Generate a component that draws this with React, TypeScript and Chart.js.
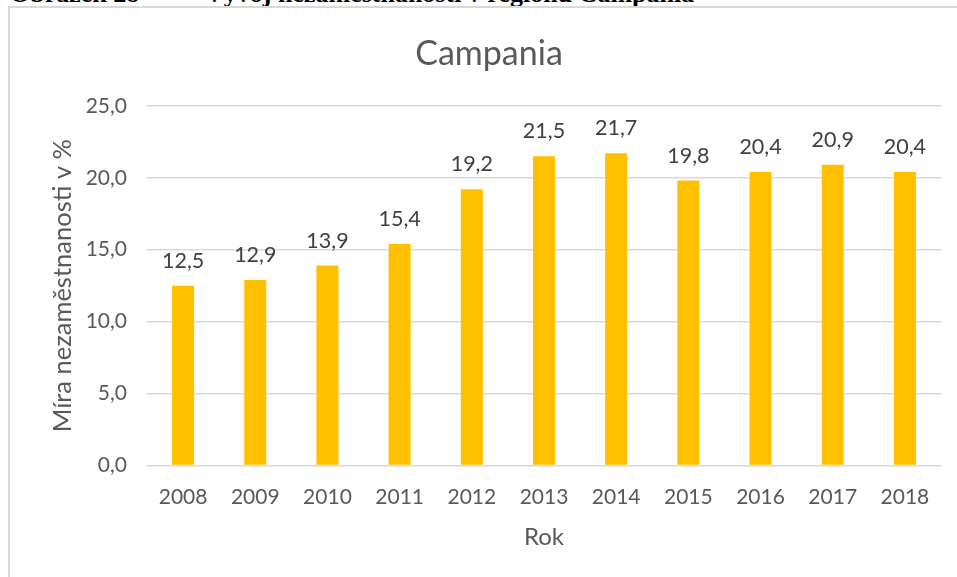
import React, { useEffect, useRef } from "react";
import { Chart, registerables } from "chart.js";

Chart.register(...registerables);

const years = ["2008", "2009", "2010", "2011", "2012", "2013", "2014", "2015", "2016", "2017", "2018"];
const unemployment = [12.5, 12.9, 13.9, 15.4, 19.2, 21.5, 21.7, 19.8, 20.4, 20.9, 20.4];
const yTicks = [0, 5, 10, 15, 20, 25];
const chartTitle = "Campania";
const yTitle = "Míra nezaměstnanosti v %";
const xTitle = "Rok";
const captionLabel = "Obrázek 28";
const captionText = "Vývoj nezaměstnanosti v regionu Campania";

const fmt = (v: number) => v.toFixed(1).replace(".", ",");
const FONT = "Lato";

const dataLabels = {
  id: "dataLabels",
  afterDatasetsDraw(chart: any) {
    const ctx = chart.ctx;
    const meta = chart.getDatasetMeta(0);
    ctx.save();
    ctx.font = `21.5px ${FONT}`;
    ctx.fillStyle = "#404040";
    ctx.textAlign = "center";
    ctx.textBaseline = "alphabetic";
    meta.data.forEach((bar: any, i: number) => {
      ctx.fillText(fmt(unemployment[i]), bar.x, bar.y - 18);
    });
    ctx.restore();
  },
};

export default function App() {
  const ref = useRef<HTMLCanvasElement>(null);
  useEffect(() => {
    if (!ref.current) return;
    const chart = new Chart(ref.current, {
      type: "bar",
      data: {
        labels: years,
        datasets: [
          {
            data: unemployment,
            backgroundColor: "#FFC000",
            borderWidth: 0,
            barPercentage: 0.305,
            categoryPercentage: 1,
          },
        ],
      },
      options: {
        animation: false,
        responsive: false,
        devicePixelRatio: 1,
        layout: { padding: 0 },
        plugins: {
          legend: { display: false },
          tooltip: { enabled: false },
          title: {
            display: true,
            text: chartTitle,
            color: "#595959",
            font: { family: FONT, size: 34, weight: "normal" },
            padding: { top: 26, bottom: 31 },
          },
        },
        scales: {
          x: {
            grid: { display: false, drawTicks: false },
            border: { display: false },
            ticks: {
              color: "#595959",
              font: { family: FONT, size: 21 },
              padding: 19,
              maxRotation: 0,
            },
            title: {
              display: true,
              text: xTitle,
              color: "#595959",
              font: { family: FONT, size: 24 },
              padding: { top: 0, bottom: 25 },
            },
            afterFit(scale: any) {
              scale.height = 111.5;
            },
          },
          y: {
            min: 0,
            max: 25,
            afterBuildTicks(scale: any) {
              scale.ticks = yTicks.map((v) => ({ value: v }));
            },
            grid: { color: "#d9d9d9", lineWidth: 1.5, drawTicks: false },
            border: { display: false },
            ticks: {
              color: "#595959",
              font: { family: FONT, size: 21 },
              padding: 20,
              callback: (v: any) => fmt(Number(v)),
            },
            title: {
              display: true,
              text: yTitle,
              color: "#595959",
              font: { family: FONT, size: 25.5 },
              padding: { top: 37, bottom: 0 },
            },
            afterFit(scale: any) {
              scale.width = 137;
            },
          },
          yRight: {
            position: "right",
            display: true,
            min: 0,
            max: 25,
            grid: { display: false, drawTicks: false },
            border: { display: false },
            ticks: { display: false },
            afterFit(scale: any) {
              scale.width = 27;
            },
          },
        },
      },
      plugins: [dataLabels],
    });
    return () => chart.destroy();
  }, []);

  const captionStyle: React.CSSProperties = {
    position: "absolute",
    top: -19,
    fontFamily: "'Liberation Serif', serif",
    fontWeight: "bold",
    fontSize: 26,
    lineHeight: "26px",
    whiteSpace: "nowrap",
    color: "#000",
  };

  return (
    <div
      style={{
        position: "fixed",
        left: 0,
        top: 0,
        width: 957,
        height: 577,
        overflow: "hidden",
        background: "#fff",
      }}
    >
      <span style={{ ...captionStyle, left: 10 }}>{captionLabel}</span>
      <span style={{ ...captionStyle, left: 205 }}>{captionText}</span>
      <div
        style={{
          position: "absolute",
          left: 8,
          top: 6,
          width: 1000,
          height: 700,
          borderLeft: "2px solid #d9d9d9",
          borderTop: "2px solid #d9d9d9",
          background: "#fff",
        }}
      >
        <canvas ref={ref} width={958} height={569} style={{ display: "block", width: 958, height: 569 }} />
      </div>
    </div>
  );
}
